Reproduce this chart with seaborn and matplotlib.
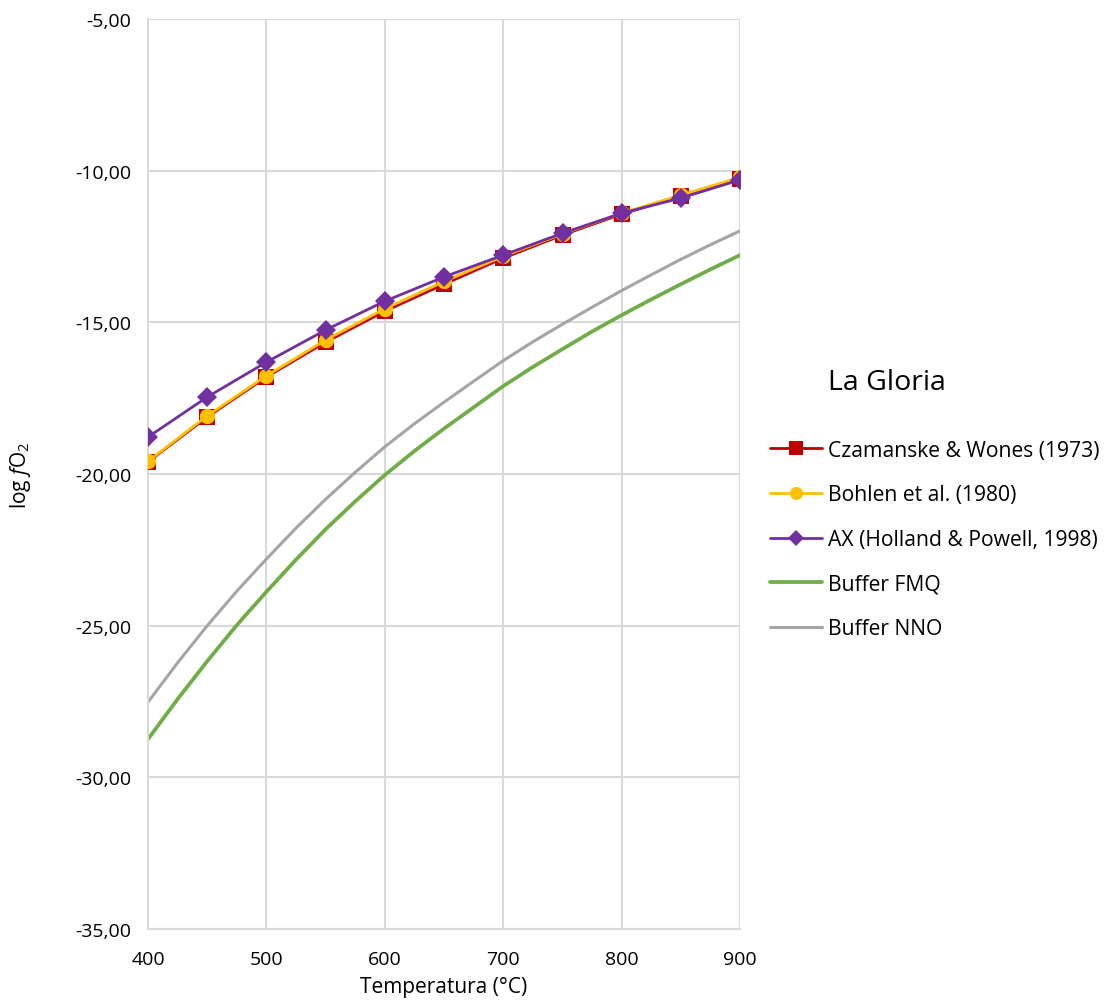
import matplotlib
matplotlib.use("Agg")
import matplotlib.pyplot as plt
import matplotlib.ticker as mticker
import seaborn as sns
import pandas as pd

# Model estimates of log fO2 at each temperature (°C)
temps = [400, 450, 500, 550, 600, 650, 700, 750, 800, 850, 900]
czamanske = [-19.60, -18.12, -16.80, -15.65, -14.63, -13.74, -12.88, -12.12, -11.43, -10.84, -10.27]
bohlen = [-19.58, -18.08, -16.76, -15.58, -14.55, -13.65, -12.82, -12.08, -11.40, -10.80, -10.22]
ax_hp = [-18.78, -17.46, -16.31, -15.25, -14.30, -13.50, -12.78, -12.06, -11.40, -10.90, -10.30]

# Buffer curves, tabulated every 25 °C
buffer_temps = [400, 425, 450, 475, 500, 525, 550, 575, 600, 625, 650,
                675, 700, 725, 750, 775, 800, 825, 850, 875, 900]
fmq = [-28.74, -27.42, -26.17, -24.98, -23.88, -22.82, -21.82, -20.90, -20.03, -19.24, -18.50,
       -17.80, -17.10, -16.47, -15.88, -15.30, -14.76, -14.24, -13.74, -13.25, -12.78]
nno = [-27.52, -26.22, -25.00, -23.86, -22.80, -21.78, -20.83, -19.94, -19.10, -18.34, -17.63,
       -16.94, -16.26, -15.64, -15.06, -14.50, -13.95, -13.43, -12.92, -12.44, -11.98]

series_names = ["Czamanske & Wones (1973)", "Bohlen et al. (1980)",
                "AX (Holland & Powell, 1998)", "Buffer FMQ", "Buffer NNO"]

sns.set_theme(style="white")
plt.rcParams["font.family"] = ["Open Sans", "DejaVu Sans"]
plt.rcParams["mathtext.fontset"] = "custom"
plt.rcParams["mathtext.rm"] = "Open Sans"
plt.rcParams["mathtext.it"] = "Open Sans:italic"
plt.rcParams["text.color"] = "#000000"
plt.rcParams["axes.labelcolor"] = "#000000"

models = pd.DataFrame({"T": temps, "cz": czamanske, "bo": bohlen, "ax": ax_hp})
buffers = pd.DataFrame({"T": buffer_temps, "fmq": fmq, "nno": nno})

fig = plt.figure(figsize=(11.08, 10.04), dpi=100)
ax = fig.add_axes([0.1336, 0.0737, 0.668 - 0.1336, 0.980 - 0.0737])

# Buffers drawn first, then the three models on top
sns.lineplot(data=buffers, x="T", y="nno", ax=ax, color="#A5A5A5", lw=2.2,
             label=series_names[4], zorder=2)
sns.lineplot(data=buffers, x="T", y="fmq", ax=ax, color="#70AD47", lw=2.7,
             label=series_names[3], zorder=2)
sns.lineplot(data=models, x="T", y="cz", ax=ax, color="#C00000", lw=2.0,
             marker="s", markersize=12, markeredgewidth=0,
             label=series_names[0], zorder=3)
sns.lineplot(data=models, x="T", y="bo", ax=ax, color="#FFC000", lw=2.0,
             marker="o", markersize=11, markeredgewidth=0,
             label=series_names[1], zorder=4)
sns.lineplot(data=models, x="T", y="ax", ax=ax, color="#7030A0", lw=2.0,
             marker="D", markersize=10, markeredgewidth=0,
             label=series_names[2], zorder=5)

ax.set_xlim(400, 900)
ax.set_ylim(-35, -5)
ax.xaxis.set_major_locator(mticker.MultipleLocator(100))
ax.yaxis.set_major_locator(mticker.MultipleLocator(5))
ax.yaxis.set_major_formatter(mticker.FuncFormatter(lambda v, p: f"{v:.2f}".replace(".", ",")))
ax.grid(True, color="#D9D9D9", lw=1.5)
ax.set_axisbelow(True)
for s in ["top", "right"]:
    ax.spines[s].set_visible(False)
for s in ["left", "bottom"]:
    ax.spines[s].set_color("#D9D9D9")
    ax.spines[s].set_linewidth(1.5)
ax.tick_params(axis="y", labelsize=14, colors="#000000", length=0, pad=12)
ax.tick_params(axis="x", labelsize=14, colors="#000000", length=0, pad=15)
ax.set_xlabel("Temperatura (°C)", fontsize=15, labelpad=6)
ax.set_ylabel(r"log $\mathit{f}$O$_2$", fontsize=15, labelpad=30)

handles, labels = ax.get_legend_handles_labels()
order = [labels.index(n) for n in series_names]
ax.legend_.remove()
leg = fig.legend([handles[i] for i in order], [labels[i] for i in order],
                 loc="upper left", bbox_to_anchor=(0.695, 0.561),
                 frameon=False, fontsize=15.2, borderpad=0, borderaxespad=0,
                 labelspacing=1.12, handlelength=2.45, handletextpad=0.3,
                 markerscale=0.85)
for t in leg.get_texts():
    t.set_color("#000000")
fig.text(0.747, 0.6185, "La Gloria", fontsize=20.5, ha="left", va="center",
         color="#000000")

fig.savefig("out.png", dpi=100)
